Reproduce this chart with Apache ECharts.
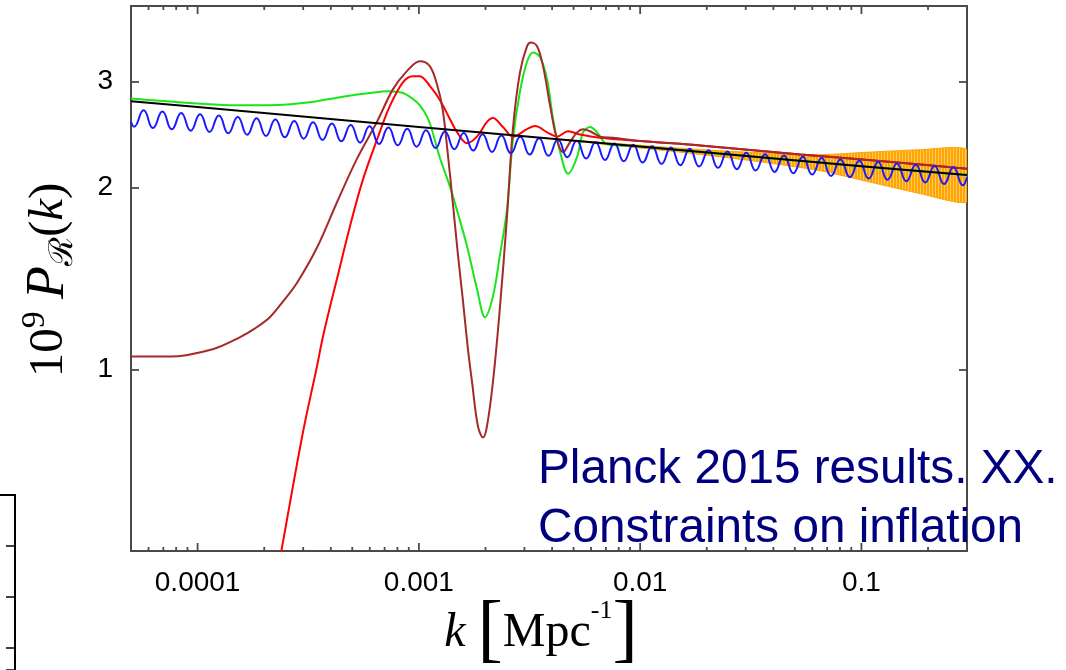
<!DOCTYPE html>
<html>
<head>
<meta charset="utf-8">
<title>Primordial power spectrum</title>
<script src="https://cdn.jsdelivr.net/npm/echarts@6/dist/echarts.min.js"></script>
<style>
html, body { margin: 0; padding: 0; background: #fff; }
#chart { width: 1066px; height: 670px; }
</style>
</head>
<body>
<div id="chart"></div>
<script>
// k in Mpc^-1, values are 10^9 P_R(k)
var xTickValues = [1e-4, 1e-3, 1e-2, 0.1];
var xTickLabels = ["0.0001", "0.001", "0.01", "0.1"];
var xMinorTicks = [6e-5, 7e-5, 8e-5, 9e-5,
  2e-4, 3e-4, 4e-4, 5e-4, 6e-4, 7e-4, 8e-4, 9e-4,
  2e-3, 3e-3, 4e-3, 5e-3, 6e-3, 7e-3, 8e-3, 9e-3,
  0.02, 0.03, 0.04, 0.05, 0.06, 0.07, 0.08, 0.09, 0.2];
var yTickValues = [1, 2, 3];
var yTickLabels = ["1", "2", "3"];

// power law (black)
var blackK = [5e-5, 1e-4, 1e-3, 1e-2, 0.1, 0.3];
var blackP = [2.78, 2.72, 2.52, 2.34, 2.17, 2.10];

// green
var greenK = [5e-5, 8.3e-5, 1.4e-4, 2.12e-4, 3.21e-4, 4.53e-4, 6.0e-4, 7.24e-4, 8.47e-4, 9.8e-4,
  1.053e-3, 1.12e-3, 1.24e-3, 1.38e-3, 1.49e-3, 1.65e-3, 1.83e-3, 1.99e-3, 2.16e-3, 2.32e-3,
  2.5e-3, 2.66e-3, 2.86e-3, 3.08e-3, 3.28e-3, 3.53e-3, 3.8e-3, 4.04e-3, 4.35e-3, 4.72e-3,
  5.19e-3, 5.52e-3, 5.94e-3, 6.39e-3, 7.09e-3, 8.12e-3, 0.01, 0.1, 0.3];
var greenP = [2.81, 2.77, 2.74, 2.74, 2.77, 2.83, 2.87, 2.89, 2.87, 2.77,
  2.68, 2.56, 2.25, 2.01, 1.83, 1.60, 1.36, 1.22, 1.32, 1.54,
  1.84, 2.40, 2.88, 3.23, 3.35, 3.29, 3.02, 2.60, 2.29, 2.11,
  2.25, 2.47, 2.52, 2.47, 2.36, 2.35, 2.34, 2.17, 2.10];

// red
var redK = [2.18e-4, 2.39e-4, 2.99e-4, 3.46e-4, 3.68e-4, 4.04e-4, 4.26e-4, 4.87e-4, 5.58e-4, 6.46e-4,
  7.39e-4, 8.47e-4, 9.4e-4, 1.01e-3, 1.12e-3, 1.24e-3, 1.38e-3, 1.49e-3, 1.65e-3, 1.83e-3,
  2.03e-3, 2.16e-3, 2.4e-3, 2.66e-3, 3.08e-3, 3.35e-3, 3.8e-3, 4.21e-3, 4.72e-3, 5.35e-3,
  6.59e-3, 0.01, 0.0187, 0.053, 0.15, 0.3];
var redP = [0.415, 0.50, 0.785, 1.01, 1.13, 1.305, 1.41, 1.72, 2.06, 2.40,
  2.73, 2.99, 3.06, 3.06, 2.95, 2.80, 2.60, 2.47, 2.37, 2.43,
  2.57, 2.61, 2.52, 2.43, 2.50, 2.53, 2.47, 2.43, 2.48, 2.45,
  2.42, 2.39, 2.35, 2.27, 2.20, 2.15];

// brown
var brownK = [5e-5, 7.5e-5, 1.17e-4, 1.55e-4, 1.81e-4, 2.12e-4, 2.45e-4, 2.81e-4, 3.46e-4, 4.26e-4, 5.24e-4,
  6.46e-4, 7.63e-4, 8.83e-4, 1.01e-3, 1.12e-3, 1.206e-3, 1.28e-3, 1.352e-3, 1.425e-3, 1.501e-3,
  1.58e-3, 1.666e-3, 1.74e-3, 1.85e-3, 1.95e-3, 2.03e-3, 2.16e-3, 2.32e-3, 2.5e-3, 2.66e-3,
  2.86e-3, 3.08e-3, 3.21e-3, 3.42e-3, 3.64e-3, 3.92e-3, 4.21e-3, 4.48e-3, 4.82e-3, 5.19e-3,
  5.52e-3, 5.94e-3, 6.59e-3, 7.55e-3, 0.01, 0.0187, 0.053, 0.15, 0.3];
var brownP = [1.05, 1.05, 1.08, 1.13, 1.168, 1.22, 1.30, 1.39, 1.59, 1.89, 2.23,
  2.57, 2.91, 3.12, 3.24, 3.18, 2.97, 2.70, 2.27, 1.88, 1.55,
  1.305, 1.08, 0.951, 0.804, 0.771, 0.804, 0.951, 1.256, 1.785, 2.50,
  3.10, 3.43, 3.48, 3.43, 3.18, 2.73, 2.40, 2.29, 2.38, 2.47,
  2.50, 2.48, 2.43, 2.42, 2.39, 2.35, 2.27, 2.20, 2.15];

// blue: log10(k) of the edges, troughs and peaks
var blueLogK = [-4.3010, -4.2869, -4.2443, -4.2018, -4.1592, -4.1167, -4.0741, -4.0315, -3.9890, -3.9464,
  -3.9039, -3.8613, -3.8187, -3.7762, -3.7336, -3.6911, -3.6485, -3.6059, -3.5634, -3.5208,
  -3.4783, -3.4357, -3.3931, -3.3506, -3.3080, -3.2655, -3.2229, -3.1803, -3.1378, -3.0952,
  -3.0527, -3.0101, -2.9675, -2.9250, -2.8824, -2.8399, -2.7973, -2.7547, -2.7122, -2.6696,
  -2.6271, -2.5845, -2.5419, -2.4994, -2.4568, -2.4143, -2.3717, -2.3291, -2.2866, -2.2440,
  -2.2015, -2.1589, -2.1163, -2.0738, -2.0312, -1.9887, -1.9461, -1.9035, -1.8610, -1.8184,
  -1.7759, -1.7333, -1.6907, -1.6482, -1.6056, -1.5631, -1.5205, -1.4779, -1.4354, -1.3928,
  -1.3503, -1.3077, -1.2651, -1.2226, -1.1800, -1.1375, -1.0949, -1.0523, -1.0098, -0.9672,
  -0.9247, -0.8821, -0.8395, -0.7970, -0.7544, -0.7119, -0.6693, -0.6267, -0.5842, -0.5416,
  -0.5229];
var blueP = [2.572, 2.524, 2.687, 2.511, 2.674, 2.499, 2.660, 2.486, 2.647, 2.473,
  2.633, 2.461, 2.620, 2.448, 2.607, 2.436, 2.593, 2.424, 2.580, 2.411,
  2.567, 2.399, 2.554, 2.387, 2.541, 2.375, 2.528, 2.363, 2.516, 2.351,
  2.503, 2.339, 2.490, 2.327, 2.478, 2.316, 2.465, 2.304, 2.453, 2.292,
  2.440, 2.281, 2.428, 2.269, 2.416, 2.258, 2.403, 2.246, 2.391, 2.235,
  2.379, 2.223, 2.367, 2.212, 2.355, 2.201, 2.343, 2.190, 2.331, 2.179,
  2.320, 2.168, 2.308, 2.157, 2.296, 2.146, 2.285, 2.135, 2.273, 2.124,
  2.262, 2.113, 2.250, 2.103, 2.239, 2.092, 2.227, 2.082, 2.216, 2.071,
  2.205, 2.061, 2.194, 2.050, 2.183, 2.040, 2.172, 2.029, 2.161, 2.019,
  2.083];

// orange: envelope of the fast oscillation
var orangeK = [0.005, 0.0152, 0.023, 0.0388, 0.0652, 0.110, 0.185, 0.3];
var orangeUp = [2.395, 2.325, 2.302, 2.281, 2.268, 2.291, 2.312, 2.311];
var orangeLo = [2.389, 2.290, 2.250, 2.196, 2.134, 2.042, 1.955, 1.896];

function pairs(xs, ys) {
  var out = [];
  for (var i = 0; i < Math.min(xs.length, ys.length); i++) out.push([xs[i], ys[i]]);
  return out;
}
function pickLabel(values, labels) {
  return function (v) {
    for (var i = 0; i < values.length; i++) {
      if (Math.abs(Math.log10(v / values[i])) < 1e-6) return labels[i];
    }
    return "";
  };
}

// thin vertical hatching for the orange band
var hatch = document.createElement("canvas");
hatch.width = 3;
hatch.height = 2;
var hctx = hatch.getContext("2d");
hctx.fillStyle = "#ffa500";
hctx.fillRect(0, 0, 2, 2);
hctx.fillStyle = "#ffc862";
hctx.fillRect(2, 0, 1, 2);

var frame = "#4a4a4a";
var tickFont = { fontSize: 28, fontFamily: "Liberation Sans", color: "#000" };
var serif = "Liberation Serif";

var chart = echarts.init(document.getElementById("chart"));

function lineSeries(name, data, color, smooth) {
  return {
    name: name,
    type: "line",
    xAxisIndex: 0,
    yAxisIndex: 0,
    data: data,
    symbol: "none",
    smooth: smooth,
    lineStyle: { color: color, width: 2 },
    itemStyle: { color: color },
    clip: true
  };
}

function logX(pos, withLabels) {
  return {
    type: "log", gridIndex: 0, position: pos, min: 5e-5, max: 0.3,
    axisLine: { show: true, onZero: false, lineStyle: { color: frame, width: 2 } },
    axisTick: { show: false },
    axisLabel: withLabels
      ? Object.assign({ show: true, margin: 18, customValues: xTickValues, formatter: pickLabel(xTickValues, xTickLabels) }, tickFont)
      : { show: false },
    splitLine: { show: false }
  };
}

// x ticks (major and minor) on the bottom and top edges, placed by the x scale
var xTickData = xTickValues.map(function (k) { return [k, 8]; })
  .concat(xMinorTicks.map(function (k) { return [k, 4]; }));

var option = {
  animation: false,
  backgroundColor: "#fff",
  grid: [
    { left: 131, top: 6, width: 836, height: 545 },
    { left: 0, top: 495, width: 15, height: 175 }
  ],
  xAxis: [
    logX("bottom", true),
    logX("top", false),
    {
      type: "value", gridIndex: 1, position: "top", min: 0, max: 1,
      axisLine: { show: true, onZero: false, lineStyle: { color: "#000", width: 2 } },
      axisTick: { show: false }, axisLabel: { show: false }, splitLine: { show: false }
    }
  ],
  yAxis: [
    {
      type: "log", gridIndex: 0, position: "left", min: 0.5, max: 4,
      axisLine: { show: true, onZero: false, lineStyle: { color: frame, width: 2 } },
      axisTick: { show: true, inside: true, length: 8, customValues: yTickValues, lineStyle: { color: frame, width: 1.8 } },
      axisLabel: Object.assign({ show: true, margin: 18, customValues: yTickValues, formatter: pickLabel(yTickValues, yTickLabels) }, tickFont),
      splitLine: { show: false }
    },
    {
      type: "log", gridIndex: 0, position: "right", min: 0.5, max: 4,
      axisLine: { show: true, onZero: false, lineStyle: { color: frame, width: 2 } },
      axisTick: { show: true, inside: true, length: 8, customValues: yTickValues, lineStyle: { color: frame, width: 1.8 } },
      axisLabel: { show: false },
      splitLine: { show: false }
    },
    {
      type: "value", gridIndex: 1, position: "right", inverse: true, min: 0, max: 175 / 51, interval: 1,
      axisLine: { show: true, onZero: false, lineStyle: { color: "#000", width: 2 } },
      axisTick: { show: true, inside: true, length: 9, lineStyle: { color: "#000", width: 1.5 } },
      axisLabel: { show: false }, splitLine: { show: false }
    }
  ],
  graphic: [
    {
      type: "text", x: 49, y: 280, rotation: Math.PI / 2,
      style: {
        text: "{m|10}{sup|9}{m| }{cal|P}{sub|\u211B}{m|(}{it|k}{m|)}",
        align: "center", verticalAlign: "middle", fill: "#000",
        rich: {
          m: { fontSize: 49, fontFamily: serif, lineHeight: 62 },
          sup: { fontSize: 34, fontFamily: serif, verticalAlign: "top", lineHeight: 42 },
          cal: { fontSize: 54, fontFamily: serif, fontStyle: "italic", lineHeight: 62 },
          sub: { fontSize: 33, fontFamily: "DejaVu Serif", verticalAlign: "bottom", lineHeight: 40 },
          it: { fontSize: 49, fontFamily: serif, fontStyle: "italic", lineHeight: 62 }
        }
      }
    },
    {
      type: "text", x: 541, y: 633,
      style: {
        text: "{it|k}{m| }{br|[}{m|Mpc}{sup|-1}{br|]}",
        align: "center", verticalAlign: "middle", fill: "#000",
        rich: {
          it: { fontSize: 48, fontFamily: serif, fontStyle: "italic", lineHeight: 70 },
          m: { fontSize: 48, fontFamily: serif, lineHeight: 70 },
          br: { fontSize: 76, fontFamily: serif, lineHeight: 70 },
          sup: { fontSize: 26, fontFamily: serif, verticalAlign: "top", lineHeight: 48 }
        }
      }
    },
    {
      type: "text", x: 538, y: 470, z: 100,
      style: { text: "Planck 2015 results. XX.", fontSize: 47.7, fontFamily: "Liberation Sans", fill: "#00007f", align: "left", verticalAlign: "middle" }
    },
    {
      type: "text", x: 538, y: 529, z: 100,
      style: { text: "Constraints on inflation", fontSize: 47.7, fontFamily: "Liberation Sans", fill: "#00007f", align: "left", verticalAlign: "middle" }
    }
  ],
  series: [
    {
      name: "xticks",
      type: "custom",
      xAxisIndex: 0,
      yAxisIndex: 0,
      clip: false,
      silent: true,
      z: 5,
      data: xTickData,
      renderItem: function (params, api) {
        var x = api.coord([api.value(0), 1])[0];
        var len = api.value(1);
        var top = params.coordSys.y;
        var bottom = params.coordSys.y + params.coordSys.height;
        var st = { stroke: frame, lineWidth: 1.8 };
        return {
          type: "group",
          children: [
            { type: "line", shape: { x1: x, y1: bottom, x2: x, y2: bottom - len }, style: st },
            { type: "line", shape: { x1: x, y1: top, x2: x, y2: top + len }, style: st }
          ]
        };
      }
    },
    {
      name: "orange",
      type: "custom",
      xAxisIndex: 0,
      yAxisIndex: 0,
      clip: true,
      data: orangeK.map(function (k, i) { return [k, orangeUp[i], orangeLo[i]]; }),
      renderItem: function (params, api) {
        if (params.dataIndex !== 0) return null;
        var pts = [];
        for (var i = 0; i < orangeK.length; i++) pts.push(api.coord([orangeK[i], orangeUp[i]]));
        for (var j = orangeK.length - 1; j >= 0; j--) pts.push(api.coord([orangeK[j], orangeLo[j]]));
        return {
          type: "polygon",
          shape: { points: pts, smooth: 0.2 },
          style: { fill: { image: hatch, repeat: "repeat" }, stroke: "#ffa500", lineWidth: 1 }
        };
      }
    },
    lineSeries("green", pairs(greenK, greenP), "#19e619", 0.35),
    lineSeries("red", pairs(redK, redP), "#ff0000", 0.35),
    lineSeries("brown", pairs(brownK, brownP), "#a52a2a", 0.35),
    lineSeries("blue", pairs(blueLogK.map(function (v) { return Math.pow(10, v); }), blueP), "#1a1aff", 0.5),
    lineSeries("black", pairs(blackK, blackP), "#000000", false)
  ]
};

chart.setOption(option);
</script>
</body>
</html>
